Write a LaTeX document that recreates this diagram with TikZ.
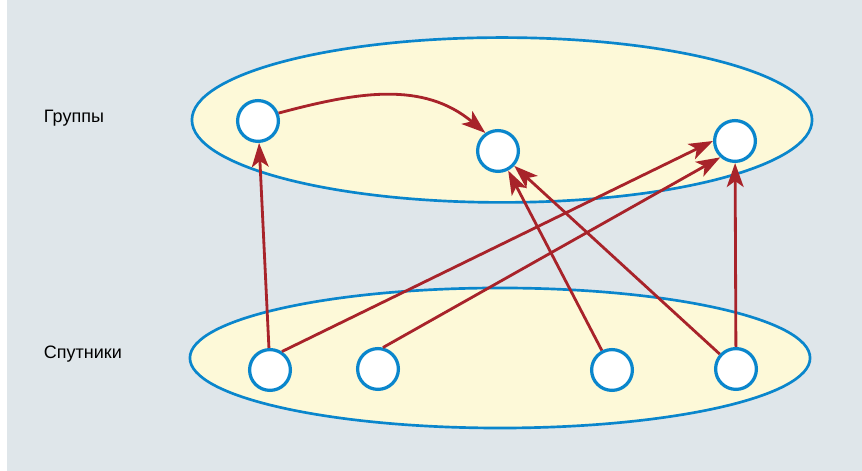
\documentclass[tikz,border=0pt]{standalone}
\usepackage{fontspec}
\setmainfont{Liberation Sans}
\usetikzlibrary{arrows.meta,shapes.geometric}

\definecolor{bgcol}{HTML}{DFE6EA}
\definecolor{setfill}{HTML}{FDF9D8}
\definecolor{setline}{HTML}{0A86CC}
\definecolor{arrcol}{HTML}{A8232A}

\begin{document}
\begin{tikzpicture}[
	x=0.025cm, y=0.025cm,
	% Define the styles for the sets, the vertices and the arrows
	set/.style={ellipse, draw=setline, fill=setfill, line width=1.9pt, inner sep=0pt},
	vert/.style={circle, draw=setline, fill=white, line width=2.3pt, minimum size=1.02cm, inner sep=0pt},
	arr/.style={draw=arrcol, line width=2pt, -{Stealth[length=6mm, width=4.2mm, inset=1.5mm]}},
	lab/.style={anchor=west, font=\fontsize{12.8}{14}\selectfont}
	]
	
	% --- BACKGROUND ---
	\useasboundingbox (0,0) rectangle (862,471);
	\fill[bgcol] (7,0) rectangle (862,471);
	
	% --- SETS ---
	\node[set, minimum width=15.5cm, minimum height=4.12cm] (groups) at (502,351) {};
	\node[set, minimum width=15.5cm, minimum height=3.5cm] (sats) at (500,113) {};
	
	\node[lab] (lgroups) at (39,353) {Группы};
	\node[lab] (lsats) at (39,117) {Спутники};
	
	% --- VERTICES ---
	\node[vert] (g1) at (258,350) {};
	\node[vert] (g2) at (498,320) {};
	\node[vert] (g3) at (735,330) {};
	
	\node[vert] (s1) at (270,101) {};
	\node[vert] (s2) at (378,102) {};
	\node[vert] (s3) at (612,101) {};
	\node[vert] (s4) at (736,102) {};
	
	% --- EDGES ---
	\draw[arr] (g1.21) to[out=15, in=140] (g2.125);
	\draw[arr] (s1) -- (g1);
	\draw[arr] (s1.57) -- (g3.west);
	\draw[arr] (s2.77) -- (g3.228);
	\draw[arr] (s3) -- (g2);
	\draw[arr] (s4) -- (g2);
	\draw[arr] (s4) -- (g3);
	
\end{tikzpicture}
\end{document}
